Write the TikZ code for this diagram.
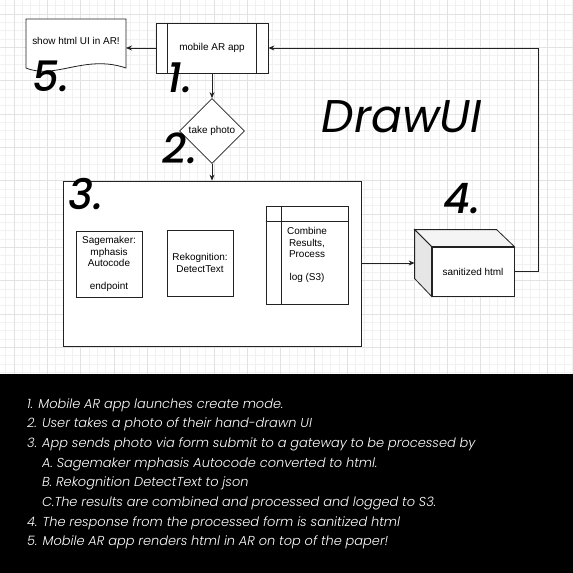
\documentclass[tikz,border=0pt]{standalone}
\usepackage{fontspec}
\setmainfont{Liberation Sans}
\newfontfamily\handFont{Poppins Light}[ItalicFont={Poppins Light Italic}]
\newfontfamily\markFont{Poppins Medium}[ItalicFont={Poppins Medium Italic}]
\newfontfamily\titleFont{Poppins}
\usetikzlibrary{shapes.geometric}
\usetikzlibrary{arrows.meta}
\usetikzlibrary{calc}
\definecolor{gridColorMinor}{HTML}{F1F1F1}
\definecolor{gridColorMajor}{HTML}{E2E2E2}
\definecolor{lineColor}{HTML}{222222}
\definecolor{cubeSideColor}{HTML}{E6E6E6}
\definecolor{cubeTopColor}{HTML}{F4F4F4}
\definecolor{bandColor}{HTML}{000000}
\definecolor{bandTextColor}{HTML}{FFFFFF}
\def\boxFont{\fontsize{10}{11.5}\selectfont}
\def\numFont{\markFont\itshape\fontsize{42}{42}\selectfont}
\def\legFont{\handFont\itshape\fontsize{13}{15}\selectfont}

\begin{document}
\begin{tikzpicture}[x=1bp,y=-1bp,
  plainBox/.style={draw=lineColor, line width=0.8bp, fill=white, align=center, font=\boxFont, inner sep=2bp},
  flowArrow/.style={draw=lineColor, line width=0.8bp, -{Stealth[length=6bp,width=5bp,inset=2bp]}},
  bigNum/.style={inner sep=0pt, font=\numFont},
  legLine/.style={anchor=base west, inner sep=0pt, text=bandTextColor, font=\legFont}]

% page
\useasboundingbox (0,0) rectangle (573,573);
\fill[white] (0,0) rectangle (573,374);

% grid layer
\begin{scope}
\foreach \k in {-1,...,67}
  \draw[gridColorMinor, line width=0.5bp] ({14+\k*8.3333},0) -- ({14+\k*8.3333},374);
\foreach \k in {-1,...,43}
  \draw[gridColorMinor, line width=0.5bp] (0,{14+\k*8.3333}) -- (573,{14+\k*8.3333});
\foreach \k in {0,...,16}
  \draw[gridColorMajor, line width=0.6bp] ({14+\k*33.3333},0) -- ({14+\k*33.3333},374);
\foreach \k in {0,...,10}
  \draw[gridColorMajor, line width=0.6bp] (0,{14+\k*33.3333}) -- (573,{14+\k*33.3333});
\end{scope}

% shapes
\begin{scope}
% document
\draw[lineColor, line width=0.8bp, fill=white] (26,19) -- (126,19) -- (126,68)
  .. controls (85,54) and (55,80) .. (26,68) -- cycle;
\node[font=\boxFont, inner sep=0pt] (showNode) at (76,41) {show html UI in AR!};
\coordinate (showIn) at (126,48);

% mobile app
\node[plainBox, minimum width=112bp, minimum height=50bp] (appNode) at (212,48) {mobile AR app};
\draw[lineColor, line width=0.8bp] ($(appNode.north west)+(12,0)$) -- ($(appNode.south west)+(12,0)$);
\draw[lineColor, line width=0.8bp] ($(appNode.north east)+(-12,0)$) -- ($(appNode.south east)+(-12,0)$);

% photo
\node[plainBox, diamond, aspect=1, minimum size=65bp, inner sep=0pt] (photoNode) at (212,131) {take photo};

% gateway
\node[plainBox, minimum width=298bp, minimum height=165bp] (gateNode) at (212,263.5) {};
\node[plainBox, minimum width=66bp, minimum height=66bp] (sageNode) at (109,264)
  {Sagemaker:\\mphasis\\Autocode\\[11.5bp]endpoint};
\node[plainBox, minimum width=66bp, minimum height=66bp] (rekNode) at (200,263)
  {Rekognition:\\DetectText};
\node[plainBox, minimum width=82bp, minimum height=98bp] (combNode) at (307,255)
  {Combine\\Results,\\Process\\[11.5bp]log (S3)};
\draw[lineColor, line width=0.8bp] ($(combNode.north west)+(0,16)$) -- ($(combNode.north east)+(0,16)$);
\draw[lineColor, line width=0.8bp] ($(combNode.north west)+(16,0)$) -- ($(combNode.south west)+(16,0)$);

% cube
\node[plainBox, minimum width=82bp, minimum height=49bp] (cubeNode) at (473,271.5) {sanitized html};
\fill[cubeTopColor, draw=lineColor, line width=0.8bp] (cubeNode.north west) -- ++(-17,-17) -- ++(82,0)
  -- (cubeNode.north east) -- cycle;
\fill[cubeSideColor, draw=lineColor, line width=0.8bp] (cubeNode.north west) -- ++(-17,-17) -- ++(0,49)
  -- (cubeNode.south west) -- cycle;
\coordinate (cubeIn) at ($(cubeNode.west)+(-17,-8.5)$);
\end{scope}

% links
\begin{scope}
\draw[flowArrow] (appNode.west) -- (showIn);
\draw[flowArrow] (appNode.south) -- (photoNode.north);
\draw[flowArrow] (photoNode.south) -- (gateNode.north);
\draw[flowArrow] (gateNode.east |- cubeIn) -- (cubeIn);
\draw[flowArrow] (cubeNode.east) -- ++(24,0) |- (appNode.east);
\end{scope}

% numbers
\begin{scope}
\node[bigNum] (numFive) at (51,76) {5.};
\node[bigNum] (numOne) at (180,78) {1.};
\node[bigNum] (numTwo) at (180,148) {2.};
\node[bigNum] (numThree) at (86,194) {3.};
\node[bigNum] (numFour) at (462,199) {4.};
\node[bigNum, font=\titleFont\itshape\fontsize{46}{46}\selectfont] (titleNode) at (402,117) {DrawUI};
\end{scope}

% legend band
\begin{scope}
\fill[bandColor] (0,374) rectangle (573,573);
\node[legLine] (legOne) at (27,408) {1. Mobile AR app launches create mode.};
\node[legLine] (legTwo) at (27,427.7) {2. User takes a photo of their hand-drawn UI};
\node[legLine] (legThree) at (27,447.4) {3. App sends photo via form submit to a gateway to be processed by};
\node[legLine] (legA) at (42,467.1) {A. Sagemaker mphasis Autocode converted to html.};
\node[legLine] (legB) at (42,486.8) {B. Rekognition DetectText to json};
\node[legLine] (legC) at (42,506.5) {C.The results are combined and processed and logged to S3.};
\node[legLine] (legFour) at (27,526.2) {4. The response from the processed form is sanitized html};
\node[legLine] (legFive) at (27,545.9) {5. Mobile AR app renders html in AR on top of the paper!};
\end{scope}

\end{tikzpicture}
\end{document}
